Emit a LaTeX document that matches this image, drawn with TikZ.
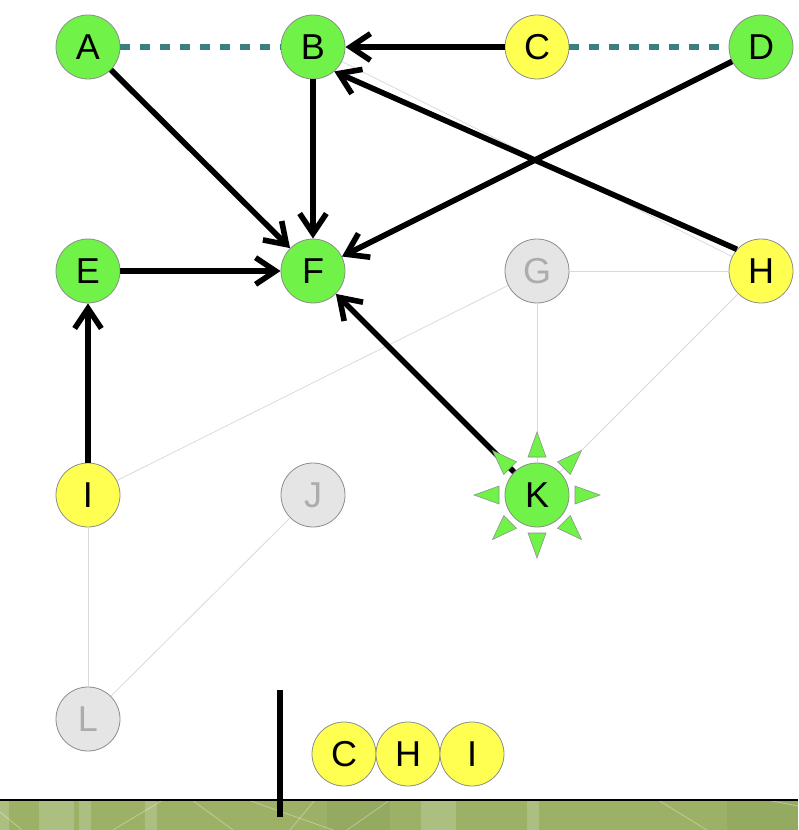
\documentclass[tikz,border=0pt]{standalone}
\usepackage{fontspec}
\setmainfont{Liberation Sans}
\usetikzlibrary{arrows.meta}
\definecolor{vgreen}{RGB}{112,242,72}
\definecolor{vyellow}{RGB}{255,255,82}
\definecolor{vgray}{RGB}{229,229,229}
\definecolor{vgraytext}{RGB}{172,172,172}
\definecolor{vborder}{RGB}{140,140,140}
\definecolor{vline}{RGB}{218,218,218}
\definecolor{vteal}{RGB}{58,128,128}
\definecolor{vband}{RGB}{156,177,101}
\tikzset{
  vtx/.style={circle, draw=vborder, line width=0.6pt, minimum size=48pt, inner sep=0pt, font=\fontsize{27}{30}\selectfont},
  greennode/.style={vtx, fill=vgreen},
  yellownode/.style={vtx, fill=vyellow},
  graynode/.style={vtx, fill=vgray, text=vgraytext},
  arcline/.style={line width=4.2pt, -{Straight Barb[length=15pt,width=20pt]}},
  grayedge/.style={line width=0.6pt, vline},
  tieline/.style={line width=4.2pt, vteal, dash pattern=on 7pt off 8pt},
  spark/.style={fill=vgreen, draw=vborder, line width=0.4pt},
}
\begin{document}
\begin{tikzpicture}[x=0.75pt,y=0.75pt,yscale=-1]
		\useasboundingbox (0,0) rectangle (798,830);

		% ground
		\fill[vband] (0,800) rectangle (798,830);
		\foreach \xa/\xb in {0/9,39/74,79/91,145/157,421/456,527/539}
			\fill[white, opacity=0.18] (\xa,800) rectangle (\xb,830);
		\fill[black, opacity=0.04] (327,800) rectangle (390,830);
		\fill[black, opacity=0.04] (727,800) rectangle (798,830);
		\foreach \p/\q in {{(0,812)}/{(22,830)},{(113,830)}/{(163,800)},{(192,800)}/{(233,830)},{(248,800)}/{(333,830)},{(315,800)}/{(290,830)},{(390,800)}/{(347,830)},{(658,800)}/{(707,830)},{(767,800)}/{(798,806)}}
			\draw[white, opacity=0.35, line width=0.6pt] \p -- \q;
		\draw[line width=0.8pt] (0,800) -- (798,800);

		\node[greennode]  (A) at (88,47)   {A};
		\node[greennode]  (B) at (313,47)  {B};
		\node[yellownode] (C) at (537,47)  {C};
		\node[greennode]  (D) at (761,47)  {D};
		\node[greennode]  (E) at (88,271)  {E};
		\node[greennode]  (F) at (313,271) {F};
		\node[graynode]   (G) at (537,271) {G};
		\node[yellownode] (H) at (761,271) {H};
		\node[yellownode] (I) at (88,495)  {I};
		\node[graynode]   (J) at (313,495) {J};
		\node[greennode]  (K) at (537,495) {K};
		\node[graynode]   (L) at (88,719)  {L};

		\draw[grayedge] (B) -- (H);
		\draw[grayedge] (G) -- (H);
		\draw[grayedge] (G) -- (I);
		\draw[grayedge] (G) -- (K);
		\draw[grayedge] (H) -- (K);
		\draw[grayedge] (I) -- (L);
		\draw[grayedge] (J) -- (L);

		\draw[tieline] (A) -- (B);
		\draw[tieline] (C) -- (D);

		\draw[arcline] (C) -- (B);
		\draw[arcline] (A) -- (F);
		\draw[arcline] (B) -- (F);
		\draw[arcline] (D) -- (F);
		\draw[arcline] (H.138) -- (B.-49);
		\draw[arcline] (E) -- (F);
		\draw[arcline] (I) -- (E);
		\draw[arcline] (K) -- (F);

		\foreach \a in {0,45,...,315}
			\draw[spark, shift={(K)}, rotate=\a] (38,-9) -- (63,0) -- (38,9) -- cycle;

		% queue
		\coordinate (bartop) at (280,690);
		\coordinate (barbot) at (280,817);
		\draw[line width=5pt] (bartop) -- (barbot);
		\node[yellownode] (qC) at (344,754) {C};
		\node[yellownode] (qH) at (408,754) {H};
		\node[yellownode] (qI) at (472,754) {I};
\end{tikzpicture}
\end{document}
